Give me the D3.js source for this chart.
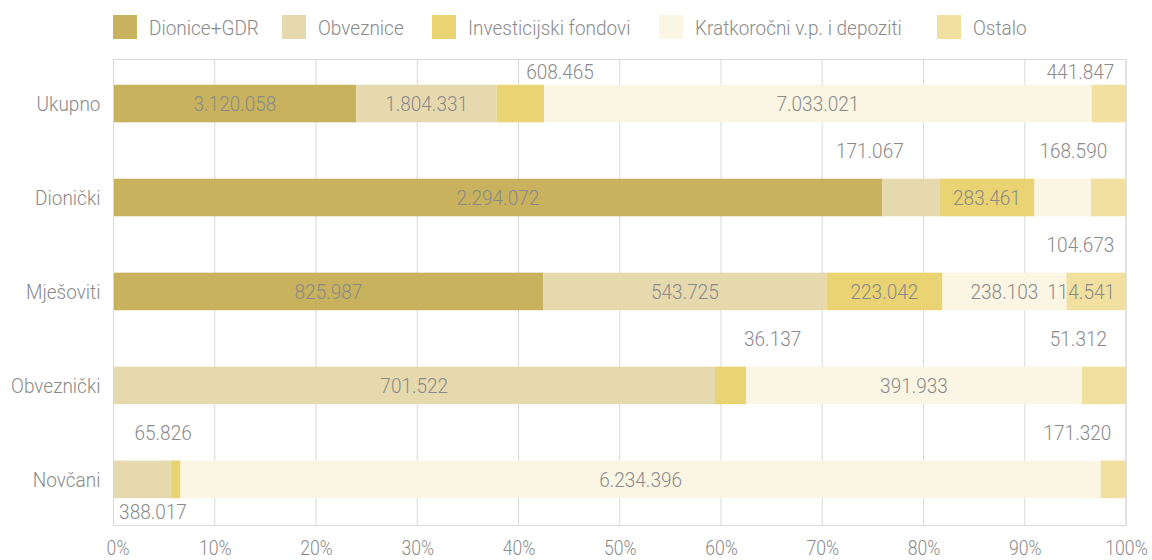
<!DOCTYPE html>
<html>
<head>
<meta charset="utf-8">
<script src="https://cdn.jsdelivr.net/npm/d3@7"></script>
<style>
  html, body { margin: 0; padding: 0; background: #ffffff; }
  svg { display: block; }
  text { font-family: Roboto, "Noto Sans", sans-serif; fill: #8a8a8a; font-weight: 300; }
</style>
</head>
<body>
<svg id="chart" width="1152" height="560"></svg>
<script>
// ---------------- data ----------------
const categories = ["Ukupno", "Dionički", "Mješoviti", "Obveznički", "Novčani"];
const seriesNames = ["Dionice+GDR", "Obveznice", "Investicijski fondovi", "Kratkoročni v.p. i depoziti", "Ostalo"];
const dionice       = [3120058, 2294072, 825987, 0, 0];
const obveznice     = [1804331, 171067, 543725, 701522, 388017];
const investicijski = [608465, 283461, 223042, 36137, 65826];
const kratkorocni   = [7033021, 168590, 238103, 391933, 6234396];
const ostalo        = [441847, 104673, 114541, 51312, 171320];
const tickValues = [0, 10, 20, 30, 40, 50, 60, 70, 80, 90, 100];

// ---------------- styling / layout ----------------
const colors = ["#c8b25e", "#e6d9ae", "#ead372", "#fbf5e3", "#f2e0a0"];
const legendX = [113, 282, 432, 659, 937];
// labels drawn outside their bar (series index, side, position in % of axis)
const outsideLabels = [
  { cat: "Ukupno",     s: 2, side: "above", at: 44.1 },
  { cat: "Ukupno",     s: 4, side: "above", at: 95.5 },
  { cat: "Dionički",   s: 1, side: "above", at: 74.7 },
  { cat: "Dionički",   s: 3, side: "above", at: 94.8 },
  { cat: "Dionički",   s: 4, side: "below", at: 95.5 },
  { cat: "Obveznički", s: 2, side: "above", at: 65.1 },
  { cat: "Obveznički", s: 4, side: "above", at: 95.3 },
  { cat: "Novčani",    s: 1, side: "below", at: 3.9 },
  { cat: "Novčani",    s: 2, side: "above", at: 4.9 },
  { cat: "Novčani",    s: 4, side: "above", at: 95.2 }
];

const SX = 0.905;     // horizontal squeeze to imitate a condensed face
const FS = 21;
const plot = { left: 113.5, right: 1126, top: 59.5, bottom: 525.5 };

const allSeries = [dionice, obveznice, investicijski, kratkorocni, ostalo];
const hr = d3.formatLocale({ decimal: ",", thousands: ".", grouping: [3], currency: ["", " kn"] });
const fmt = hr.format(",d");

const svg = d3.select("#chart");

const x = d3.scaleLinear().domain([0, 100]).range([plot.left, plot.right]);
const y = d3.scaleBand().domain(categories)
  .range([plot.top, plot.bottom])
  .paddingInner(0.6).paddingOuter(0.28).align(0.48);

function label(g, px, py, str, anchor, fs) {
  return g.append("text")
    .attr("transform", `translate(${px},${py}) scale(${SX},1)`)
    .attr("text-anchor", anchor || "middle")
    .attr("dy", "0.35em")
    .style("font-size", (fs || FS) + "px")
    .text(str);
}

// ---------------- stacked data ----------------
const rows = categories.map((c, i) => {
  const vals = allSeries.map(s => s[i]);
  const total = d3.sum(vals);
  let acc = 0;
  const segs = vals.map((v, k) => {
    const p0 = acc / total * 100;
    acc += v;
    const p1 = acc / total * 100;
    return { cat: c, s: k, value: v, p0, p1 };
  });
  return { cat: c, segs };
});

// ---------------- grid ----------------
const grid = svg.append("g");
grid.selectAll("line.v").data(tickValues).join("line")
  .attr("x1", d => x(d)).attr("x2", d => x(d))
  .attr("y1", plot.top).attr("y2", plot.bottom)
  .attr("stroke", "#d9d9d9").attr("stroke-width", 1);
grid.append("line").attr("x1", plot.left).attr("x2", plot.right)
  .attr("y1", plot.top).attr("y2", plot.top).attr("stroke", "#d9d9d9");
grid.append("line").attr("x1", plot.left).attr("x2", plot.right)
  .attr("y1", plot.bottom).attr("y2", plot.bottom).attr("stroke", "#d9d9d9");

// ---------------- bars ----------------
const barsG = svg.append("g");
rows.forEach(r => {
  barsG.selectAll(null).data(r.segs.filter(d => d.value > 0)).join("rect")
    .attr("x", d => x(d.p0))
    .attr("width", d => x(d.p1) - x(d.p0))
    .attr("y", y(r.cat))
    .attr("height", y.bandwidth())
    .attr("fill", d => colors[d.s]);
});

// ---------------- bar labels ----------------
const labG = svg.append("g");
const isOutside = (c, s) => outsideLabels.some(o => o.cat === c && o.s === s);
rows.forEach(r => {
  r.segs.forEach(d => {
    if (d.value <= 0 || isOutside(d.cat, d.s)) return;
    const cy = y(d.cat) + y.bandwidth() / 2;
    let cx = x((d.p0 + d.p1) / 2);
    const t = label(labG, cx, cy, fmt(d.value));
    const w = t.node().getComputedTextLength() * SX;
    const maxRight = plot.right - 11;
    if (cx + w / 2 > maxRight) {
      cx = maxRight - w / 2;
      t.attr("transform", `translate(${cx},${cy}) scale(${SX},1)`);
    }
  });
});
outsideLabels.forEach(o => {
  const ci = categories.indexOf(o.cat);
  const v = allSeries[o.s][ci];
  const top = y(o.cat), bot = top + y.bandwidth();
  let cy;
  if (o.side === "above") {
    const prevBottom = ci > 0 ? y(categories[ci - 1]) + y.bandwidth() : plot.top;
    cy = (top + prevBottom) / 2;
  } else {
    const nextTop = ci < categories.length - 1 ? y(categories[ci + 1]) : plot.bottom;
    cy = (bot + nextTop) / 2;
  }
  label(labG, x(o.at), cy, fmt(v));
});

// ---------------- frame edges (left & right) ----------------
svg.append("line").attr("x1", plot.left).attr("x2", plot.left)
  .attr("y1", plot.top).attr("y2", plot.bottom).attr("stroke", "#d9d9d9");
svg.append("line").attr("x1", plot.right).attr("x2", plot.right)
  .attr("y1", plot.top).attr("y2", plot.bottom).attr("stroke", "#d9d9d9");

// ---------------- axes ----------------
const xAxis = d3.axisBottom(x).tickValues(tickValues).tickFormat(d => d + "%").tickSize(0).tickPadding(0);
const xg = svg.append("g").attr("transform", `translate(0,${plot.bottom})`).call(xAxis);
xg.select(".domain").remove();
xg.selectAll(".tick text").each(function (d) {
  const t = d3.select(this);
  const str = t.text();
  const tick = d3.select(this.parentNode);
  t.remove();
  label(tick, d === 0 ? 4 : 0, 23, str, "middle", 19.5);
});

const yAxis = d3.axisLeft(y).tickSize(0).tickPadding(0);
const yg = svg.append("g").attr("transform", `translate(${plot.left},0)`).call(yAxis);
yg.select(".domain").remove();
yg.selectAll(".tick text").each(function () {
  const t = d3.select(this);
  const str = t.text();
  const tick = d3.select(this.parentNode);
  t.remove();
  label(tick, -13, 0, str, "end");
});

// ---------------- legend ----------------
const lg = svg.append("g");
seriesNames.forEach((n, i) => {
  lg.append("rect").attr("x", legendX[i]).attr("y", 15).attr("width", 24).attr("height", 24)
    .attr("fill", colors[i]);
  label(lg, legendX[i] + 36, 27.5, n, "start");
});
</script>
</body>
</html>
